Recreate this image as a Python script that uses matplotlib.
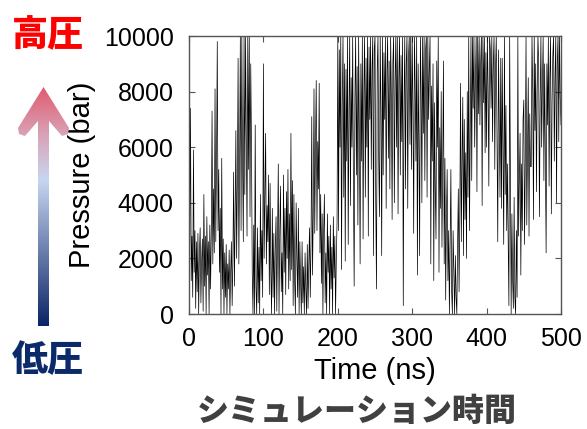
import numpy as np
import matplotlib
matplotlib.use("Agg")
import matplotlib.pyplot as plt
from matplotlib.colors import LinearSegmentedColormap
from matplotlib.path import Path
from matplotlib.patches import PathPatch

# time axis, one reading per ns
time_ns = list(range(0, 501))

# pressure trace (bar)
pressure_bar = [
    7300, 2500, 7400, 1200, 2800, 600, 5900, 1500, 3000, 200,
    2600, 800, 2900, 0, 2200, 3100, 400, 1900, 2700, 100,
    4300, 1000, 2800, 0, 3500, 1400, 2600, 0, 3200, 900,
    3000, 7300, 1800, 4500, 2200, 8100, 2600, 5500, 9800, 3000,
    5200, 1500, 3800, 0, 5600, 900, 2700, 0, 2200, 600,
    2500, 0, 1800, 900, 2300, 0, 1500, 2600, 300, 2000,
    5100, 1000, 3400, 6600, 2000, 4800, 9200, 1800, 5200, 10000,
    3000, 10000, 5500, 2600, 10000, 4300, 10000, 6500, 2800, 10000,
    5200, 10000, 3500, 9000, 6000, 1500, 0, 3200, 0, 6800,
    1000, 0, 3100, 400, 2400, 0, 4300, 1200, 3000, 600,
    9000, 2000, 4400, 6500, 1800, 3900, 2600, 5000, 700, 4700,
    1500, 0, 3800, 600, 2900, 0, 2400, 3500, 100, 2700,
    5400, 0, 3000, 4600, 800, 2200, 0, 5000, 1500, 3800,
    700, 4400, 2000, 5200, 900, 3600, 1200, 6500, 1600, 4800,
    300, 4300, 1200, 0, 4000, 2000, 600, 3800, 0, 2600,
    1100, 0, 2600, 400, 1700, 0, 2200, 900, 0, 2500,
    200, 1800, 3100, 600, 2500, 7100, 1400, 3500, 8100, 2900,
    6000, 8400, 3000, 6200, 4500, 8300, 2200, 4300, 1100, 3600,
    0, 3000, 4300, 400, 2200, 0, 3600, 1500, 2800, 0,
    3200, 900, 2400, 0, 3500, 1300, 2800, 0, 2000, 3300,
    10000, 3000, 9500, 6000, 10000, 1600, 7500, 10000, 4200, 9000,
    1900, 8800, 5500, 10000, 2500, 7200, 10000, 3900, 8500, 6000,
    10000, 4500, 1000, 7800, 10000, 5000, 8900, 3200, 10000, 6400,
    1800, 9000, 5500, 10000, 2700, 8000, 10000, 4200, 9200, 6000,
    10000, 2800, 9600, 7000, 10000, 5200, 8800, 10000, 2100, 9500,
    10000, 4000, 900, 8800, 10000, 5500, 3500, 10000, 7200, 2100,
    10000, 5000, 9400, 7000, 10000, 3800, 8700, 10000, 5600, 9100,
    4500, 10000, 7800, 3400, 9000, 10000, 4000, 8400, 10000, 6000,
    10000, 3600, 8500, 10000, 5000, 9300, 6200, 10000, 300, 7500,
    10000, 4500, 9000, 10000, 3800, 9200, 10000, 6100, 10000, 5200,
    10000, 7400, 2900, 10000, 8200, 5500, 10000, 1400, 9000, 6300,
    2100, 10000, 8000, 4000, 10000, 6500, 10000, 4800, 9500, 10000,
    4200, 10000, 7000, 8800, 10000, 1800, 8200, 5500, 9000, 1200,
    7600, 4500, 2700, 9100, 6000, 10000, 1500, 6700, 3800, 8000,
    2400, 5300, 9100, 1800, 5600, 500, 3500, 5200, 1200, 3000,
    0, 2600, 5200, 800, 0, 3000, 1500, 0, 2100, 600,
    0, 2500, 4500, 800, 3600, 8300, 2600, 5500, 7800, 2100,
    7000, 3400, 5800, 2000, 8000, 4200, 10000, 3000, 6500, 10000,
    4800, 10000, 7400, 10000, 6000, 8500, 10000, 4400, 10000, 7200,
    10000, 6800, 9000, 10000, 3900, 10000, 7600, 10000, 5800, 9400,
    6000, 10000, 8200, 4600, 10000, 9500, 7400, 10000, 6200, 9000,
    10000, 5200, 8800, 10000, 6500, 2600, 9500, 7000, 4200, 9200,
    3800, 9200, 6000, 2500, 10000, 4300, 7500, 3000, 5400, 2600,
    300, 10000, 5000, 0, 3600, 1200, 200, 4200, 600, 0,
    3000, 600, 10000, 2800, 4800, 6500, 1400, 5400, 3000, 7000,
    7700, 2500, 5500, 10000, 3200, 6000, 8500, 2800, 7200, 5300,
    5300, 10000, 8000, 3400, 10000, 6600, 9000, 4400, 8000, 10000,
    9000, 3500, 7600, 10000, 6000, 8200, 10000, 4800, 9000, 5600,
    2200, 9000, 6800, 10000, 4600, 8500, 10000, 3600, 7600, 9300,
    10000, 5500, 8500, 10000, 4000, 9000, 10000, 6200, 10000, 7800,
    6800,
]

x_ticks = [0, 100, 200, 300, 400, 500]
y_ticks = [0, 2000, 4000, 6000, 8000, 10000]

W, H = 587, 429
fig = plt.figure(figsize=(W / 100, H / 100), dpi=100)

ax = fig.add_axes([189 / W, 1 - 314 / H, 372 / W, 278 / H])
ax.plot(time_ns, pressure_bar, color="black", lw=0.5)
ax.set_xlim(0, 500)
ax.set_ylim(0, 10000)
ax.set_xticks(x_ticks)
ax.set_yticks(y_ticks)
ax.tick_params(direction="in", top=True, right=True, length=4, width=0.8,
               color="#555555", labelsize=18)
ax.tick_params(axis="x", pad=9)
ax.tick_params(axis="y", pad=11)
for lab in ax.get_xticklabels() + ax.get_yticklabels():
    lab.set_family("Liberation Sans")
for sp in ax.spines.values():
    sp.set_color("#555555")
    sp.set_linewidth(1.0)
ax.set_xlabel("Time (ns)", family="Liberation Sans", fontsize=21, labelpad=5)
ax.set_ylabel("Pressure (bar)", family="Liberation Sans", fontsize=21, labelpad=6)

# overlay in pixel coordinates for the arrow and the Japanese captions
ov = fig.add_axes([0, 0, 1, 1])
ov.set_xlim(0, W)
ov.set_ylim(H, 0)
ov.axis("off")
ov.patch.set_visible(False)

arrow_pts = [
    (43.5, 87), (69, 128), (68, 134), (62, 136), (49, 121),
    (49, 326), (38, 326), (38, 121), (25, 136), (19, 134), (18, 128),
    (43.5, 87),
]
arrow_path = Path(arrow_pts, closed=True)
clip = PathPatch(arrow_path, facecolor="none", edgecolor="none", transform=ov.transData)
ov.add_patch(clip)

cmap = LinearSegmentedColormap.from_list(
    "press", [(0.0, "#0b2466"), (0.61, "#c8d6f0"), (0.8, "#d9a2b6"), (1.0, "#e05a6e")])
grad = np.linspace(1, 0, 256).reshape(-1, 1)
img = ov.imshow(grad, cmap=cmap, aspect="auto", extent=(17, 71, 326, 86),
                origin="upper", interpolation="bilinear")
img.set_clip_path(clip)

jp = ["Noto Sans CJK JP", "DejaVu Sans"]
ov.text(48, 35, "高圧", color="#ff0000", fontsize=26, fontweight="heavy",
        family=jp, ha="center", va="center")
ov.text(48, 360, "低圧", color="#0b2a6a", fontsize=26, fontweight="heavy",
        family=jp, ha="center", va="center")
ov.text(357, 411, "シミュレーション時間", color="#404040", fontsize=23,
        fontweight="heavy", family=jp, ha="center", va="center")

fig.savefig("out.png", dpi=100)
